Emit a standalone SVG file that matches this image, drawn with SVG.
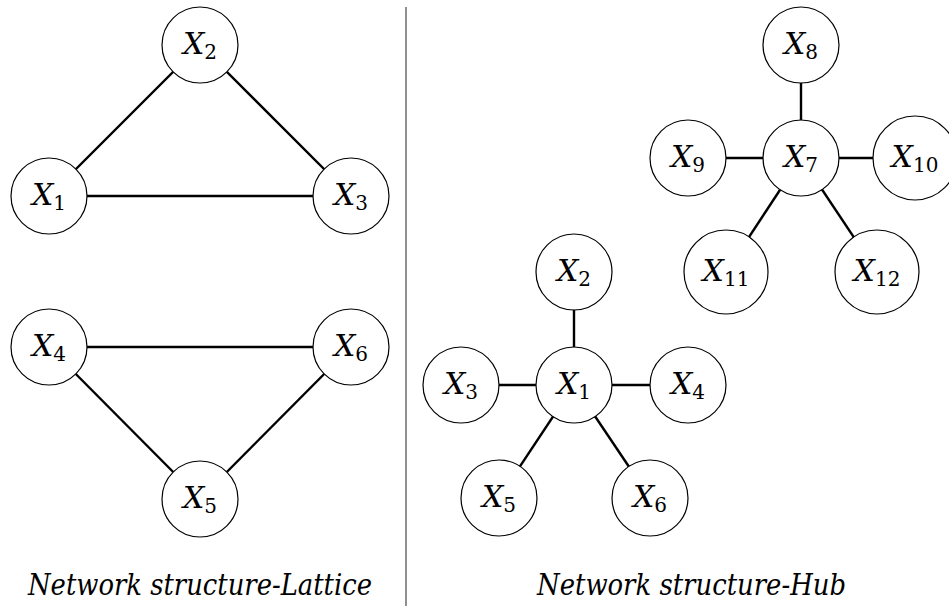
<svg xmlns="http://www.w3.org/2000/svg" width="949" height="606" viewBox="0 0 949 606">
<style>
.edge{stroke:#000;stroke-width:2.4;fill:none;stroke-linecap:butt}
.node circle{fill:#fff;stroke:#000;stroke-width:1.2}
.lbl{font-size:30px;fill:#000;text-anchor:middle}
.lbl .v{font-style:italic}
.lbl .s{font-size:20px;font-style:normal}
.cap{font-size:30px;font-style:italic;fill:#000}
</style>
<rect width="949" height="606" fill="#fff"/>
<line x1="406" y1="7" x2="406" y2="606" stroke="#555" stroke-width="1.3"/>
<g id="connectors">
<line class="edge" x1="49" y1="196" x2="200" y2="45"/>
<line class="edge" x1="200" y1="45" x2="351" y2="196"/>
<line class="edge" x1="49" y1="196" x2="351" y2="196"/>
<line class="edge" x1="49" y1="347" x2="351" y2="347"/>
<line class="edge" x1="49" y1="347" x2="200" y2="499"/>
<line class="edge" x1="351" y1="347" x2="200" y2="499"/>
<line class="edge" x1="574" y1="385" x2="574" y2="272"/>
<line class="edge" x1="574" y1="385" x2="461" y2="385"/>
<line class="edge" x1="574" y1="385" x2="688" y2="385"/>
<line class="edge" x1="574" y1="385" x2="499" y2="498"/>
<line class="edge" x1="574" y1="385" x2="650" y2="498"/>
<line class="edge" x1="801" y1="158" x2="801" y2="45"/>
<line class="edge" x1="801" y1="158" x2="688" y2="158"/>
<line class="edge" x1="801" y1="158" x2="915" y2="158"/>
<line class="edge" x1="801" y1="158" x2="726" y2="272"/>
<line class="edge" x1="801" y1="158" x2="877" y2="272"/>
</g>
<g font-family="DejaVu Serif, serif">
<g id="L-X2" class="node"><circle cx="200" cy="45" r="38"/><text class="lbl" x="200" y="54"><tspan class="v">X</tspan><tspan class="s" dy="5">2</tspan></text></g>
<g id="L-X1" class="node"><circle cx="49" cy="196" r="38"/><text class="lbl" x="49" y="205"><tspan class="v">X</tspan><tspan class="s" dy="5">1</tspan></text></g>
<g id="L-X3" class="node"><circle cx="351" cy="196" r="38"/><text class="lbl" x="351" y="205"><tspan class="v">X</tspan><tspan class="s" dy="5">3</tspan></text></g>
<g id="L-X4" class="node"><circle cx="49" cy="347" r="38"/><text class="lbl" x="49" y="356"><tspan class="v">X</tspan><tspan class="s" dy="5">4</tspan></text></g>
<g id="L-X6" class="node"><circle cx="351" cy="347" r="38"/><text class="lbl" x="351" y="356"><tspan class="v">X</tspan><tspan class="s" dy="5">6</tspan></text></g>
<g id="L-X5" class="node"><circle cx="200" cy="499" r="38"/><text class="lbl" x="200" y="508"><tspan class="v">X</tspan><tspan class="s" dy="5">5</tspan></text></g>
<g id="H-X1" class="node"><circle cx="574" cy="385" r="38"/><text class="lbl" x="574" y="394"><tspan class="v">X</tspan><tspan class="s" dy="5">1</tspan></text></g>
<g id="H-X2" class="node"><circle cx="574" cy="272" r="38"/><text class="lbl" x="574" y="281"><tspan class="v">X</tspan><tspan class="s" dy="5">2</tspan></text></g>
<g id="H-X3" class="node"><circle cx="461" cy="385" r="38"/><text class="lbl" x="461" y="394"><tspan class="v">X</tspan><tspan class="s" dy="5">3</tspan></text></g>
<g id="H-X4" class="node"><circle cx="688" cy="385" r="38"/><text class="lbl" x="688" y="394"><tspan class="v">X</tspan><tspan class="s" dy="5">4</tspan></text></g>
<g id="H-X5" class="node"><circle cx="499" cy="498" r="38"/><text class="lbl" x="499" y="507"><tspan class="v">X</tspan><tspan class="s" dy="5">5</tspan></text></g>
<g id="H-X6" class="node"><circle cx="650" cy="498" r="38"/><text class="lbl" x="650" y="507"><tspan class="v">X</tspan><tspan class="s" dy="5">6</tspan></text></g>
<g id="H-X7" class="node"><circle cx="801" cy="158" r="38"/><text class="lbl" x="801" y="167"><tspan class="v">X</tspan><tspan class="s" dy="5">7</tspan></text></g>
<g id="H-X8" class="node"><circle cx="801" cy="45" r="38"/><text class="lbl" x="801" y="54"><tspan class="v">X</tspan><tspan class="s" dy="5">8</tspan></text></g>
<g id="H-X9" class="node"><circle cx="688" cy="158" r="38"/><text class="lbl" x="688" y="167"><tspan class="v">X</tspan><tspan class="s" dy="5">9</tspan></text></g>
<g id="H-X10" class="node"><circle cx="915" cy="158" r="42"/><text class="lbl" x="915" y="167"><tspan class="v">X</tspan><tspan class="s" dy="5">10</tspan></text></g>
<g id="H-X11" class="node"><circle cx="726" cy="272" r="42"/><text class="lbl" x="726" y="281"><tspan class="v">X</tspan><tspan class="s" dy="5">11</tspan></text></g>
<g id="H-X12" class="node"><circle cx="877" cy="272" r="42"/><text class="lbl" x="877" y="281"><tspan class="v">X</tspan><tspan class="s" dy="5">12</tspan></text></g>
<text class="cap" x="28" y="595" textLength="344" lengthAdjust="spacingAndGlyphs">Network structure-Lattice</text>
<text class="cap" x="537" y="595" textLength="309" lengthAdjust="spacingAndGlyphs">Network structure-Hub</text>
</g>
</svg>
